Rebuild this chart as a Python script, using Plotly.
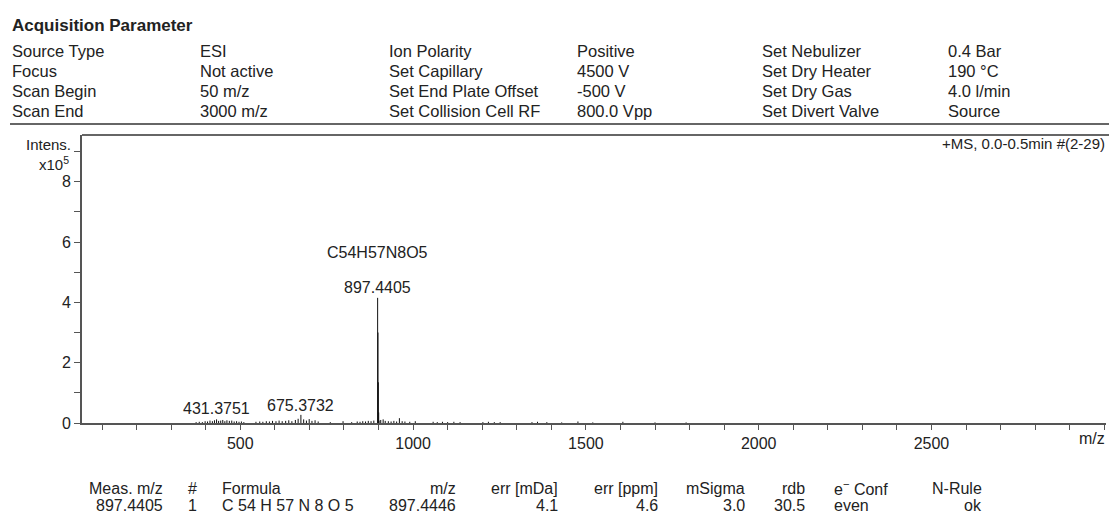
import plotly.graph_objects as go

# acquisition parameters (header block)
param_names_1 = ["Source Type", "Focus", "Scan Begin", "Scan End"]
param_values_1 = ["ESI", "Not active", "50 m/z", "3000 m/z"]
param_names_2 = ["Ion Polarity", "Set Capillary", "Set End Plate Offset", "Set Collision Cell RF"]
param_values_2 = ["Positive", "4500 V", "-500 V", "800.0 Vpp"]
param_names_3 = ["Set Nebulizer", "Set Dry Heater", "Set Dry Gas", "Set Divert Valve"]
param_values_3 = ["0.4 Bar", "190 °C", "4.0 l/min", "Source"]

# spectrum peaks, m/z and intensity in x10^5
peak_mz = [372.2, 381.3, 390.2, 398.3, 405.2, 412.3, 419.3, 425.3, 431.4, 437.3,
           443.3, 449.3, 455.3, 461.3, 468.3, 475.3, 482.3, 489.3, 496.3, 503.3,
           510.3, 545.3, 556.3, 565.3, 575.3, 584.3, 593.3, 603.3, 612.3, 621.3,
           631.3, 640.3, 649.3, 659.4, 667.4, 675.4, 683.4, 691.4, 699.4, 707.4,
           716.4, 725.4, 760.4, 797.4, 822.4, 838.4, 846.4, 854.4, 862.4, 870.4,
           878.4, 886.4, 897.44, 898.44, 899.45, 900.45, 901.45, 906.4, 913.4, 919.4,
           928.4, 936.4, 944.4, 952.4, 960.4, 968.4, 976.4, 990.4, 1006.4, 1058.0,
           1070.0, 1085.0, 1100.0, 1118.0, 1136.0, 1202.0, 1218.0, 1235.0, 1252.0, 1344.0,
           1360.0, 1387.0, 1430.0, 1477.0, 1520.0, 1607.0, 1700.0, 1790.0]
peak_int = [0.03, 0.04, 0.03, 0.06, 0.05, 0.08, 0.06, 0.09, 0.12, 0.07,
            0.08, 0.10, 0.06, 0.09, 0.07, 0.08, 0.05, 0.06, 0.04, 0.05,
            0.03, 0.04, 0.05, 0.04, 0.06, 0.05, 0.07, 0.06, 0.08, 0.06,
            0.07, 0.09, 0.06, 0.10, 0.14, 0.27, 0.12, 0.08, 0.13, 0.07,
            0.09, 0.05, 0.03, 0.06, 0.03, 0.05, 0.04, 0.06, 0.05, 0.07,
            0.06, 0.08, 4.15, 3.00, 1.35, 0.35, 0.08, 0.10, 0.12, 0.07,
            0.06, 0.05, 0.07, 0.05, 0.16, 0.06, 0.05, 0.04, 0.06, 0.04,
            0.03, 0.04, 0.03, 0.04, 0.03, 0.03, 0.04, 0.03, 0.03, 0.03,
            0.04, 0.03, 0.02, 0.05, 0.02, 0.04, 0.02, 0.02]

# labelled peaks
label_mz = [431.4, 675.4, 897.44]
label_text = ["431.3751", "675.3732", "897.4405"]
label_px = [408, 405, 287]   # vertical position of label centre (pixels)

# result table
table_headers = ["Meas. m/z", "#", "Formula", "m/z", "err [mDa]", "err [ppm]",
                 "mSigma", "rdb", "e<sup>−</sup> Conf", "N-Rule"]
table_values = ["897.4405", "1", "C 54 H 57 N 8 O 5", "897.4446", "4.1", "4.6",
                "3.0", "30.5", "even", "ok"]
table_x = [165, 192, 220, 458, 560, 660, 747, 807, 832, 984]
table_anchor = ["right", "center", "left", "right", "right", "right",
                "right", "right", "left", "right"]

x_ticks = list(range(100, 3001, 100))
x_labels = [str(v) if v % 500 == 0 and v < 3000 else "" for v in x_ticks]
y_ticks = list(range(0, 10))
y_labels = [str(v) if v % 2 == 0 else "" for v in y_ticks]

FONT = "Liberation Sans, Arial, sans-serif"
TXT = "#222222"
AX = "#555555"

# plot area in pixels
L, R, T, B = 82, 1106, 135, 423
W, H = R - L, B - T


def fx(px):
    return (px - L) / W


def fy(py):
    return (B - py) / H


# build stick spectrum
xs, ys = [], []
for m, v in zip(peak_mz, peak_int):
    xs += [m, m, None]
    ys += [0, v, None]

fig = go.Figure()
fig.add_trace(go.Scatter(x=xs, y=ys, mode="lines",
                         line=dict(color="#111111", width=1),
                         hoverinfo="skip", showlegend=False))

annotations = []


def txt(x, y, text, anchor="left", size=16, bold=False, xref="paper", yref="paper"):
    if bold:
        text = "<b>" + text + "</b>"
    annotations.append(dict(x=x, y=y, xref=xref, yref=yref, text=text,
                            showarrow=False, xanchor=anchor, yanchor="middle",
                            font=dict(family=FONT, size=size, color=TXT)))


# header
txt(fx(10), fy(26), "Acquisition Parameter", size=17, bold=True)
rows_y = [51, 71, 91, 111]
cols = [(10, param_names_1), (198, param_values_1), (387, param_names_2),
        (575, param_values_2), (760, param_names_3), (946, param_values_3)]
for cx, col in cols:
    for ry, t in zip(rows_y, col):
        txt(fx(cx), fy(ry), t, size=16.5)

# axis annotations
txt(fx(73), fy(144), "Intens.", anchor="right", size=15)
txt(fx(71), fy(163), "x10<sup>5</sup>", anchor="right", size=15)
txt(fx(1107), fy(143), "+MS, 0.0-0.5min #(2-29)", anchor="right", size=15)
txt(fx(1107), fy(438), "m/z", anchor="right")

# peak labels
for m, t, py in zip(label_mz, label_text, label_px):
    txt(m, fy(py), t, anchor="center", xref="x")
txt(897.44, fy(252), "C54H57N8O5", anchor="center", xref="x")

# table
for hx, h, v, a in zip(table_x, table_headers, table_values, table_anchor):
    txt(fx(hx), fy(488), h, anchor=a)
    txt(fx(hx), fy(505), v, anchor=a)

shapes = [
    dict(type="line", xref="paper", yref="paper", x0=fx(10), x1=fx(1109),
         y0=fy(124), y1=fy(124), line=dict(color="#666666", width=2)),
    dict(type="line", xref="paper", yref="paper", x0=0, x1=fx(1109),
         y0=fy(135), y1=fy(135), line=dict(color="#666666", width=2)),
]

fig.update_layout(
    width=1109, height=514,
    margin=dict(l=L, r=1109 - R, t=T, b=514 - B),
    paper_bgcolor="white", plot_bgcolor="white",
    font=dict(family=FONT, size=16, color=TXT),
    annotations=annotations, shapes=shapes,
    xaxis=dict(range=[42, 3005], tickvals=x_ticks, ticktext=x_labels,
               showgrid=False, zeroline=False, showline=True, linecolor=AX,
               linewidth=2, ticks="outside", ticklen=5, tickcolor=AX,
               tickfont=dict(family=FONT, size=16, color=TXT)),
    yaxis=dict(range=[0, 9.55], tickvals=y_ticks, ticktext=y_labels,
               showgrid=False, zeroline=False, showline=True, linecolor=AX,
               linewidth=2, ticks="outside", ticklen=6, tickcolor=AX,
               tickfont=dict(family=FONT, size=16, color=TXT)),
)

fig.write_html("out.html", config={"displayModeBar": False},
               post_script="document.body.style.margin='0px';")
